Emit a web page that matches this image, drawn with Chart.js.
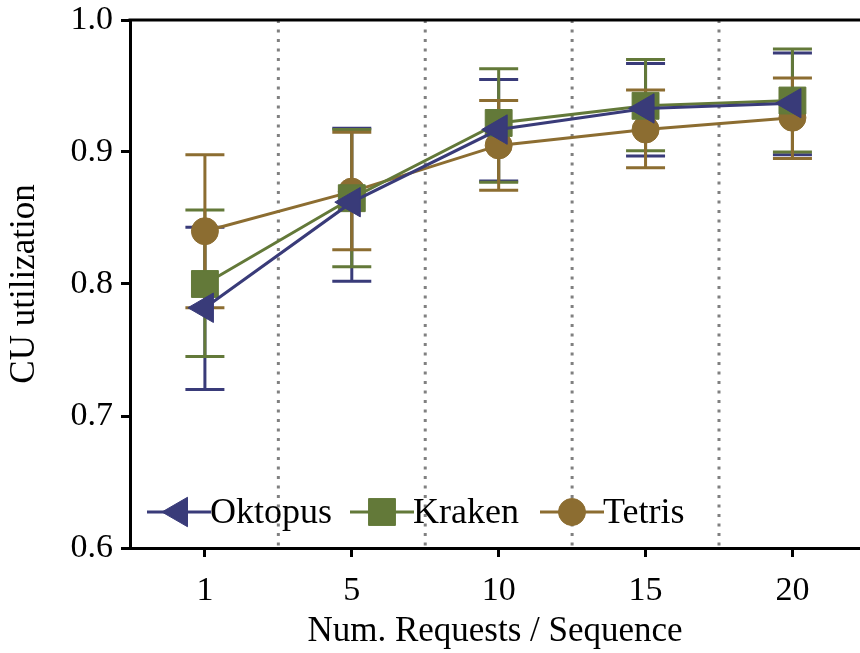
<!DOCTYPE html>
<html>
<head>
<meta charset="utf-8">
<script src="https://cdn.jsdelivr.net/npm/chart.js@4.4.0/dist/chart.umd.min.js"></script>
<style>
  html, body { margin: 0; padding: 0; background: #fff; overflow: hidden; }
  #wrap { width: 880px; height: 653px; position: relative; }
</style>
</head>
<body>
<div id="wrap"><canvas id="cu"></canvas></div>
<script>
// x categories (num. requests / sequence)
const xLabels = ['1', '5', '10', '15', '20'];

// mean CU utilization per scheduler
const oktopusMean = [0.782, 0.862, 0.917, 0.933, 0.937];
const krakenMean  = [0.800, 0.865, 0.922, 0.935, 0.939];
const tetrisMean  = [0.840, 0.870, 0.905, 0.917, 0.926];

// error bar bounds
const oktopusLow  = [0.720, 0.802, 0.878, 0.897, 0.898];
const oktopusHigh = [0.843, 0.918, 0.955, 0.967, 0.975];
const krakenLow   = [0.745, 0.813, 0.877, 0.901, 0.900];
const krakenHigh  = [0.856, 0.917, 0.963, 0.970, 0.978];
const tetrisLow   = [0.782, 0.826, 0.871, 0.888, 0.895];
const tetrisHigh  = [0.898, 0.915, 0.939, 0.947, 0.956];

const yTicks = [0.6, 0.7, 0.8, 0.9, 1.0];

const SERIF = '"Liberation Serif", "DejaVu Serif", serif';
const COLORS = { oktopus: '#393b79', kraken: '#637939', tetris: '#8c6d31' };

const toPoints = arr => arr.map((v, i) => ({ x: i, y: v }));

const series = [
    { label: 'Oktopus', mean: oktopusMean, low: oktopusLow, high: oktopusHigh, color: COLORS.oktopus, style: 'triangle', rot: 270, r: 17 },
    { label: 'Kraken',  mean: krakenMean,  low: krakenLow,  high: krakenHigh,  color: COLORS.kraken,  style: 'rect',     rot: 0,   r: 19 },
    { label: 'Tetris',  mean: tetrisMean,  low: tetrisLow,  high: tetrisHigh,  color: COLORS.tetris,  style: 'circle',   rot: 0,   r: 13.5 },
];

// error bars, separator lines, frame top and legend
const decorations = {
    id: 'decorations',
    beforeDatasetsDraw(chart) {
        const { ctx, chartArea, scales } = chart;
        const xs = scales.x, ys = scales.y;
        ctx.save();
        ctx.strokeStyle = '#808080';
        ctx.lineWidth = 3;
        ctx.setLineDash([3, 6.5]);
        [0.5, 1.5, 2.5, 3.5].forEach(v => {
            const px = xs.getPixelForValue(v);
            ctx.beginPath();
            ctx.moveTo(px, chartArea.top);
            ctx.lineTo(px, chartArea.bottom);
            ctx.stroke();
        });
        ctx.setLineDash([]);
        ctx.lineWidth = 3;
        series.forEach(s => {
            ctx.strokeStyle = s.color;
            s.mean.forEach((_, i) => {
                const px = xs.getPixelForValue(i);
                const yl = ys.getPixelForValue(s.low[i]);
                const yh = ys.getPixelForValue(s.high[i]);
                ctx.beginPath();
                ctx.moveTo(px, yl); ctx.lineTo(px, yh);
                ctx.moveTo(px - 19.5, yl); ctx.lineTo(px + 19.5, yl);
                ctx.moveTo(px - 19.5, yh); ctx.lineTo(px + 19.5, yh);
                ctx.stroke();
            });
        });
        ctx.restore();
    },
    afterDraw(chart) {
        const { ctx, chartArea } = chart;
        ctx.save();
        ctx.strokeStyle = '#000';
        ctx.lineWidth = 3;
        ctx.beginPath();
        ctx.moveTo(chartArea.left - 1.5, chartArea.top);
        ctx.lineTo(chartArea.right, chartArea.top);
        ctx.stroke();

        const ly = 512;
        const starts = [147, 350, 540];
        ctx.font = '36px ' + SERIF;
        ctx.textBaseline = 'middle';
        series.forEach((s, k) => {
            const x0 = starts[k];
            ctx.strokeStyle = s.color;
            ctx.lineWidth = 3;
            ctx.beginPath();
            ctx.moveTo(x0, ly); ctx.lineTo(x0 + 64, ly);
            ctx.stroke();
            ctx.fillStyle = s.color;
            ctx.lineWidth = 1;
            Chart.helpers.drawPoint(ctx, { pointStyle: s.style, radius: s.r, rotation: s.rot, borderWidth: 1 }, x0 + 32, ly);
            ctx.fillStyle = '#000';
            ctx.textAlign = 'left';
            ctx.fillText(s.label, x0 + 63, ly + 2);
        });
        ctx.restore();
    }
};

new Chart(document.getElementById('cu'), {
    type: 'line',
    data: {
        datasets: series.map(s => ({
            label: s.label,
            data: toPoints(s.mean),
            borderColor: s.color,
            backgroundColor: s.color,
            borderWidth: 3,
            pointStyle: s.style,
            pointRotation: s.rot,
            pointRadius: s.r,
            pointHoverRadius: s.r,
            pointBorderWidth: 1,
            tension: 0,
        }))
    },
    options: {
        responsive: true,
        maintainAspectRatio: false,
        animation: false,
        layout: { padding: { top: 19, right: 0, left: 0, bottom: 0 } },
        plugins: {
            legend: { display: false },
            tooltip: { enabled: false },
        },
        scales: {
            x: {
                type: 'linear',
                min: -0.51,
                max: 4.46,
                afterBuildTicks(scale) {
                    scale.ticks = xLabels.map((_, i) => ({ value: i }));
                },
                afterFit(scale) { scale.height = 105; },
                ticks: {
                    color: '#000',
                    font: { family: SERIF, size: 34 },
                    padding: 14,
                    callback: v => xLabels[v],
                },
                grid: { drawOnChartArea: false, tickLength: 9, tickWidth: 3, color: '#000' },
                border: { display: true, width: 3, color: '#000' },
                title: {
                    display: true,
                    text: 'Num. Requests / Sequence',
                    color: '#000',
                    font: { family: SERIF, size: 35 },
                    padding: { top: -6, bottom: 0 },
                },
            },
            y: {
                min: 0.6,
                max: 1.0,
                afterBuildTicks(scale) {
                    scale.ticks = yTicks.map(v => ({ value: v }));
                },
                afterFit(scale) {
                    scale.width = 130;
                    scale.paddingTop = 0;
                    scale.paddingBottom = 0;
                },
                ticks: {
                    color: '#000',
                    font: { family: SERIF, size: 34 },
                    padding: 8,
                    callback: v => v.toFixed(1),
                },
                grid: { drawOnChartArea: false, tickLength: 9, tickWidth: 3, color: '#000' },
                border: { display: true, width: 3, color: '#000' },
                title: {
                    display: true,
                    text: 'CU utilization',
                    color: '#000',
                    font: { family: SERIF, size: 35 },
                    padding: { bottom: 4 },
                },
            },
        },
    },
    plugins: [decorations],
});
</script>
</body>
</html>
